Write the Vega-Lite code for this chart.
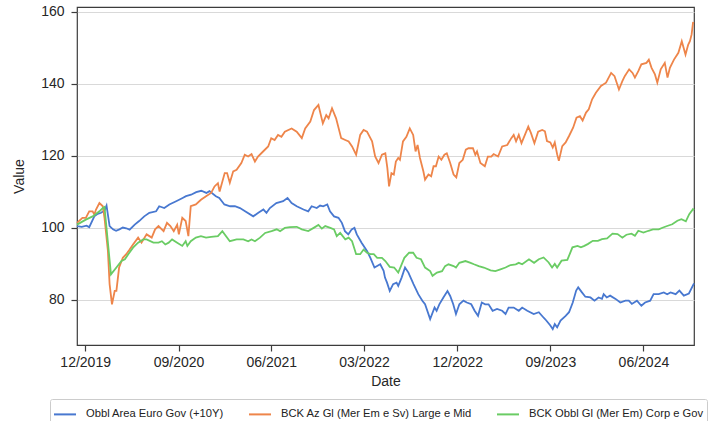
{
  "$schema": "https://vega.github.io/schema/vega-lite/v6.json",
  "width": 617,
  "height": 338,
  "autosize": {"type": "none"},
  "padding": {"left": 77, "top": 7, "right": 26, "bottom": 76},
  "datasets": {
    "names": [
      {"s": "a", "name": "Obbl Area Euro Gov (+10Y)"},
      {"s": "b", "name": "BCK Az Gl (Mer Em e Sv) Large e Mid"},
      {"s": "c", "name": "BCK Obbl Gl (Mer Em) Corp e Gov"}
    ]
  },
  "data": {
    "format": {"parse": {"d": "date"}},
    "values": [
      {"s":"a","d":"2019-11-07","v":100.5},{"s":"a","d":"2019-11-21","v":100.3},{"s":"a","d":"2019-12-05","v":100.6},{"s":"a","d":"2019-12-13","v":100.2},
      {"s":"a","d":"2019-12-28","v":103.2},{"s":"a","d":"2020-01-07","v":103.9},{"s":"a","d":"2020-01-17","v":104.2},{"s":"a","d":"2020-01-27","v":104.8},
      {"s":"a","d":"2020-02-02","v":106.2},{"s":"a","d":"2020-02-11","v":100.5},{"s":"a","d":"2020-02-21","v":99.6},{"s":"a","d":"2020-03-01","v":99.2},
      {"s":"a","d":"2020-03-11","v":99.6},{"s":"a","d":"2020-03-21","v":100.1},{"s":"a","d":"2020-03-31","v":99.9},{"s":"a","d":"2020-04-10","v":99.5},
      {"s":"a","d":"2020-04-25","v":100.9},{"s":"a","d":"2020-05-08","v":101.9},{"s":"a","d":"2020-05-23","v":103.2},{"s":"a","d":"2020-06-07","v":104.2},
      {"s":"a","d":"2020-06-27","v":104.6},{"s":"a","d":"2020-07-06","v":106.0},{"s":"a","d":"2020-07-21","v":105.5},{"s":"a","d":"2020-08-05","v":106.5},
      {"s":"a","d":"2020-08-25","v":107.4},{"s":"a","d":"2020-09-13","v":108.3},{"s":"a","d":"2020-09-23","v":108.8},{"s":"a","d":"2020-10-08","v":109.2},
      {"s":"a","d":"2020-10-23","v":109.9},{"s":"a","d":"2020-11-07","v":110.3},{"s":"a","d":"2020-11-22","v":109.7},{"s":"a","d":"2020-12-01","v":110.2},
      {"s":"a","d":"2020-12-20","v":108.8},{"s":"a","d":"2020-12-30","v":108.3},{"s":"a","d":"2021-01-14","v":106.5},{"s":"a","d":"2021-01-31","v":106.0},
      {"s":"a","d":"2021-02-14","v":106.0},{"s":"a","d":"2021-03-01","v":105.5},{"s":"a","d":"2021-03-16","v":104.6},{"s":"a","d":"2021-04-09","v":103.2},
      {"s":"a","d":"2021-04-24","v":104.2},{"s":"a","d":"2021-05-09","v":105.1},{"s":"a","d":"2021-05-18","v":104.2},{"s":"a","d":"2021-05-28","v":105.5},
      {"s":"a","d":"2021-06-16","v":106.9},{"s":"a","d":"2021-07-06","v":107.4},{"s":"a","d":"2021-07-19","v":108.3},{"s":"a","d":"2021-07-31","v":106.9},
      {"s":"a","d":"2021-08-15","v":106.0},{"s":"a","d":"2021-09-04","v":105.1},{"s":"a","d":"2021-09-18","v":104.6},{"s":"a","d":"2021-09-28","v":106.0},
      {"s":"a","d":"2021-10-13","v":105.5},{"s":"a","d":"2021-10-23","v":106.2},{"s":"a","d":"2021-11-01","v":106.0},{"s":"a","d":"2021-11-13","v":106.5},
      {"s":"a","d":"2021-11-21","v":104.6},{"s":"a","d":"2021-12-03","v":103.2},{"s":"a","d":"2021-12-16","v":102.8},{"s":"a","d":"2021-12-26","v":101.4},
      {"s":"a","d":"2022-01-04","v":99.1},{"s":"a","d":"2022-01-14","v":98.2},{"s":"a","d":"2022-01-24","v":99.6},{"s":"a","d":"2022-02-01","v":100.0},
      {"s":"a","d":"2022-02-08","v":98.2},{"s":"a","d":"2022-02-22","v":95.9},{"s":"a","d":"2022-03-10","v":93.6},{"s":"a","d":"2022-03-20","v":91.7},
      {"s":"a","d":"2022-04-01","v":89.0},{"s":"a","d":"2022-04-18","v":89.9},{"s":"a","d":"2022-04-28","v":88.1},{"s":"a","d":"2022-05-02","v":86.2},
      {"s":"a","d":"2022-05-08","v":84.8},{"s":"a","d":"2022-05-16","v":82.5},{"s":"a","d":"2022-05-26","v":84.4},{"s":"a","d":"2022-06-05","v":84.8},
      {"s":"a","d":"2022-06-10","v":83.9},{"s":"a","d":"2022-06-20","v":86.2},{"s":"a","d":"2022-06-30","v":89.0},{"s":"a","d":"2022-07-10","v":87.6},
      {"s":"a","d":"2022-07-25","v":84.4},{"s":"a","d":"2022-08-08","v":81.6},{"s":"a","d":"2022-08-20","v":79.8},{"s":"a","d":"2022-08-28","v":78.8},
      {"s":"a","d":"2022-09-12","v":74.7},{"s":"a","d":"2022-09-25","v":77.9},{"s":"a","d":"2022-10-01","v":77.0},{"s":"a","d":"2022-10-09","v":78.8},
      {"s":"a","d":"2022-10-21","v":80.7},{"s":"a","d":"2022-11-02","v":82.5},{"s":"a","d":"2022-11-10","v":81.1},{"s":"a","d":"2022-11-19","v":78.8},
      {"s":"a","d":"2022-11-27","v":76.1},{"s":"a","d":"2022-12-07","v":78.8},{"s":"a","d":"2022-12-19","v":79.8},{"s":"a","d":"2022-12-29","v":79.3},
      {"s":"a","d":"2023-01-11","v":78.8},{"s":"a","d":"2023-01-21","v":77.0},{"s":"a","d":"2023-01-31","v":75.6},{"s":"a","d":"2023-02-11","v":79.3},
      {"s":"a","d":"2023-02-21","v":78.8},{"s":"a","d":"2023-03-03","v":78.8},{"s":"a","d":"2023-03-15","v":77.0},{"s":"a","d":"2023-03-28","v":77.5},
      {"s":"a","d":"2023-04-12","v":77.0},{"s":"a","d":"2023-04-22","v":76.1},{"s":"a","d":"2023-05-01","v":77.9},{"s":"a","d":"2023-05-16","v":77.9},
      {"s":"a","d":"2023-05-31","v":77.0},{"s":"a","d":"2023-06-10","v":77.9},{"s":"a","d":"2023-06-25","v":77.0},{"s":"a","d":"2023-07-14","v":76.1},
      {"s":"a","d":"2023-07-29","v":76.6},{"s":"a","d":"2023-08-13","v":75.0},{"s":"a","d":"2023-08-20","v":74.3},{"s":"a","d":"2023-09-01","v":72.9},
      {"s":"a","d":"2023-09-08","v":71.9},{"s":"a","d":"2023-09-14","v":73.3},{"s":"a","d":"2023-09-21","v":72.4},{"s":"a","d":"2023-10-01","v":74.3},
      {"s":"a","d":"2023-10-16","v":75.6},{"s":"a","d":"2023-10-26","v":76.6},{"s":"a","d":"2023-11-06","v":79.3},{"s":"a","d":"2023-11-16","v":82.6},
      {"s":"a","d":"2023-11-22","v":83.5},{"s":"a","d":"2023-12-03","v":82.1},{"s":"a","d":"2023-12-13","v":80.9},{"s":"a","d":"2023-12-28","v":80.7},
      {"s":"a","d":"2024-01-09","v":79.8},{"s":"a","d":"2024-01-21","v":80.7},{"s":"a","d":"2024-01-31","v":80.3},{"s":"a","d":"2024-02-05","v":81.6},
      {"s":"a","d":"2024-02-14","v":80.7},{"s":"a","d":"2024-02-24","v":81.2},{"s":"a","d":"2024-03-11","v":80.3},{"s":"a","d":"2024-03-25","v":79.3},
      {"s":"a","d":"2024-04-09","v":79.8},{"s":"a","d":"2024-04-19","v":79.8},{"s":"a","d":"2024-04-28","v":78.9},{"s":"a","d":"2024-05-13","v":79.8},
      {"s":"a","d":"2024-05-26","v":78.4},{"s":"a","d":"2024-06-06","v":79.3},{"s":"a","d":"2024-06-21","v":79.8},{"s":"a","d":"2024-07-01","v":81.6},
      {"s":"a","d":"2024-07-16","v":81.6},{"s":"a","d":"2024-07-31","v":82.1},{"s":"a","d":"2024-08-10","v":81.6},{"s":"a","d":"2024-08-20","v":82.1},
      {"s":"a","d":"2024-09-04","v":81.6},{"s":"a","d":"2024-09-15","v":82.6},{"s":"a","d":"2024-09-28","v":81.2},{"s":"a","d":"2024-10-13","v":81.8},
      {"s":"a","d":"2024-10-28","v":84.6},

      {"s":"b","d":"2019-11-07","v":101.4},{"s":"b","d":"2019-11-23","v":102.8},{"s":"b","d":"2019-12-03","v":102.8},{"s":"b","d":"2019-12-13","v":104.6},
      {"s":"b","d":"2019-12-23","v":104.6},{"s":"b","d":"2019-12-28","v":103.7},{"s":"b","d":"2020-01-02","v":105.1},{"s":"b","d":"2020-01-12","v":106.9},
      {"s":"b","d":"2020-01-22","v":106.0},{"s":"b","d":"2020-01-27","v":102.8},{"s":"b","d":"2020-02-06","v":93.6},{"s":"b","d":"2020-02-11","v":84.4},
      {"s":"b","d":"2020-02-18","v":78.8},{"s":"b","d":"2020-02-26","v":82.5},{"s":"b","d":"2020-03-02","v":82.5},{"s":"b","d":"2020-03-10","v":89.0},
      {"s":"b","d":"2020-03-21","v":91.7},{"s":"b","d":"2020-03-31","v":92.7},{"s":"b","d":"2020-04-10","v":94.0},{"s":"b","d":"2020-04-20","v":95.4},
      {"s":"b","d":"2020-05-05","v":97.3},{"s":"b","d":"2020-05-15","v":95.9},{"s":"b","d":"2020-05-30","v":98.2},{"s":"b","d":"2020-06-14","v":97.3},
      {"s":"b","d":"2020-06-24","v":99.6},{"s":"b","d":"2020-07-04","v":100.5},{"s":"b","d":"2020-07-19","v":99.1},{"s":"b","d":"2020-07-29","v":101.4},
      {"s":"b","d":"2020-08-08","v":100.5},{"s":"b","d":"2020-08-18","v":99.1},{"s":"b","d":"2020-08-28","v":100.9},{"s":"b","d":"2020-09-02","v":98.2},
      {"s":"b","d":"2020-09-12","v":102.8},{"s":"b","d":"2020-09-22","v":101.9},{"s":"b","d":"2020-09-30","v":97.7},{"s":"b","d":"2020-10-07","v":106.0},
      {"s":"b","d":"2020-10-22","v":106.5},{"s":"b","d":"2020-11-06","v":107.8},{"s":"b","d":"2020-11-21","v":108.8},{"s":"b","d":"2020-12-06","v":109.7},
      {"s":"b","d":"2020-12-16","v":111.5},{"s":"b","d":"2020-12-26","v":112.4},{"s":"b","d":"2020-12-31","v":110.1},{"s":"b","d":"2021-01-15","v":115.2},
      {"s":"b","d":"2021-01-22","v":115.2},{"s":"b","d":"2021-01-30","v":112.5},{"s":"b","d":"2021-02-09","v":115.7},{"s":"b","d":"2021-02-19","v":116.1},
      {"s":"b","d":"2021-03-05","v":118.0},{"s":"b","d":"2021-03-15","v":120.3},{"s":"b","d":"2021-03-25","v":119.8},{"s":"b","d":"2021-04-04","v":120.5},
      {"s":"b","d":"2021-04-14","v":118.4},{"s":"b","d":"2021-04-23","v":119.8},{"s":"b","d":"2021-05-08","v":121.2},{"s":"b","d":"2021-05-23","v":122.6},
      {"s":"b","d":"2021-06-01","v":124.9},{"s":"b","d":"2021-06-11","v":124.4},{"s":"b","d":"2021-06-21","v":125.8},{"s":"b","d":"2021-07-01","v":125.3},
      {"s":"b","d":"2021-07-11","v":126.7},{"s":"b","d":"2021-07-31","v":127.6},{"s":"b","d":"2021-08-15","v":126.7},{"s":"b","d":"2021-08-30","v":124.9},
      {"s":"b","d":"2021-09-09","v":127.6},{"s":"b","d":"2021-09-24","v":129.5},{"s":"b","d":"2021-10-05","v":132.7},{"s":"b","d":"2021-10-18","v":134.1},
      {"s":"b","d":"2021-10-31","v":129.0},{"s":"b","d":"2021-11-10","v":131.3},{"s":"b","d":"2021-11-17","v":130.4},{"s":"b","d":"2021-11-27","v":133.2},
      {"s":"b","d":"2021-12-09","v":130.4},{"s":"b","d":"2021-12-24","v":124.9},{"s":"b","d":"2022-01-05","v":124.4},{"s":"b","d":"2022-01-15","v":124.0},
      {"s":"b","d":"2022-01-25","v":122.6},{"s":"b","d":"2022-02-06","v":120.3},{"s":"b","d":"2022-02-18","v":125.8},{"s":"b","d":"2022-02-28","v":127.2},
      {"s":"b","d":"2022-03-10","v":126.7},{"s":"b","d":"2022-03-25","v":124.0},{"s":"b","d":"2022-04-03","v":119.8},{"s":"b","d":"2022-04-13","v":118.0},
      {"s":"b","d":"2022-04-23","v":120.3},{"s":"b","d":"2022-05-03","v":120.7},{"s":"b","d":"2022-05-09","v":116.6},{"s":"b","d":"2022-05-14","v":111.5},
      {"s":"b","d":"2022-05-21","v":115.2},{"s":"b","d":"2022-05-28","v":114.8},{"s":"b","d":"2022-06-03","v":118.4},{"s":"b","d":"2022-06-10","v":119.4},
      {"s":"b","d":"2022-06-15","v":118.9},{"s":"b","d":"2022-06-24","v":124.0},{"s":"b","d":"2022-07-04","v":125.3},{"s":"b","d":"2022-07-14","v":127.6},
      {"s":"b","d":"2022-07-24","v":125.8},{"s":"b","d":"2022-07-31","v":121.2},{"s":"b","d":"2022-08-06","v":123.0},{"s":"b","d":"2022-08-13","v":119.4},
      {"s":"b","d":"2022-08-23","v":115.7},{"s":"b","d":"2022-08-28","v":113.4},{"s":"b","d":"2022-09-07","v":114.8},{"s":"b","d":"2022-09-15","v":114.3},
      {"s":"b","d":"2022-09-22","v":117.1},{"s":"b","d":"2022-09-29","v":117.1},{"s":"b","d":"2022-10-07","v":119.8},{"s":"b","d":"2022-10-15","v":118.9},
      {"s":"b","d":"2022-10-24","v":120.3},{"s":"b","d":"2022-10-31","v":120.7},{"s":"b","d":"2022-11-10","v":118.0},{"s":"b","d":"2022-11-20","v":114.8},
      {"s":"b","d":"2022-11-28","v":114.0},{"s":"b","d":"2022-12-07","v":118.0},{"s":"b","d":"2022-12-17","v":118.9},{"s":"b","d":"2022-12-26","v":121.7},
      {"s":"b","d":"2023-01-03","v":122.1},{"s":"b","d":"2023-01-16","v":122.1},{"s":"b","d":"2023-01-23","v":120.3},{"s":"b","d":"2023-01-28","v":121.2},
      {"s":"b","d":"2023-02-07","v":118.0},{"s":"b","d":"2023-02-20","v":117.1},{"s":"b","d":"2023-03-01","v":119.8},{"s":"b","d":"2023-03-11","v":119.8},
      {"s":"b","d":"2023-03-18","v":120.5},{"s":"b","d":"2023-03-31","v":119.8},{"s":"b","d":"2023-04-12","v":122.6},{"s":"b","d":"2023-04-27","v":123.0},
      {"s":"b","d":"2023-05-09","v":124.9},{"s":"b","d":"2023-05-16","v":125.8},{"s":"b","d":"2023-05-23","v":124.0},{"s":"b","d":"2023-05-31","v":125.8},
      {"s":"b","d":"2023-06-08","v":123.5},{"s":"b","d":"2023-06-18","v":125.8},{"s":"b","d":"2023-06-28","v":128.1},{"s":"b","d":"2023-07-06","v":126.3},
      {"s":"b","d":"2023-07-16","v":123.5},{"s":"b","d":"2023-07-27","v":126.7},{"s":"b","d":"2023-08-08","v":127.2},{"s":"b","d":"2023-08-16","v":126.8},
      {"s":"b","d":"2023-08-22","v":124.1},{"s":"b","d":"2023-09-01","v":123.7},{"s":"b","d":"2023-09-08","v":122.3},{"s":"b","d":"2023-09-14","v":123.7},
      {"s":"b","d":"2023-09-21","v":120.4},{"s":"b","d":"2023-09-26","v":118.6},{"s":"b","d":"2023-10-06","v":122.7},{"s":"b","d":"2023-10-16","v":123.7},
      {"s":"b","d":"2023-10-26","v":125.5},{"s":"b","d":"2023-11-07","v":127.8},{"s":"b","d":"2023-11-17","v":130.6},{"s":"b","d":"2023-11-27","v":131.0},
      {"s":"b","d":"2023-12-05","v":129.8},{"s":"b","d":"2023-12-15","v":132.0},{"s":"b","d":"2023-12-23","v":132.9},{"s":"b","d":"2024-01-02","v":135.7},
      {"s":"b","d":"2024-01-13","v":137.5},{"s":"b","d":"2024-01-28","v":139.4},{"s":"b","d":"2024-02-12","v":140.3},{"s":"b","d":"2024-02-27","v":143.0},
      {"s":"b","d":"2024-03-08","v":142.1},{"s":"b","d":"2024-03-21","v":138.4},{"s":"b","d":"2024-03-31","v":140.7},{"s":"b","d":"2024-04-07","v":142.1},
      {"s":"b","d":"2024-04-20","v":144.0},{"s":"b","d":"2024-04-30","v":143.0},{"s":"b","d":"2024-05-07","v":141.7},{"s":"b","d":"2024-05-17","v":143.5},
      {"s":"b","d":"2024-05-26","v":145.4},{"s":"b","d":"2024-06-10","v":145.8},{"s":"b","d":"2024-06-17","v":146.7},{"s":"b","d":"2024-06-25","v":144.4},
      {"s":"b","d":"2024-07-05","v":142.6},{"s":"b","d":"2024-07-12","v":140.3},{"s":"b","d":"2024-07-22","v":144.0},{"s":"b","d":"2024-08-03","v":145.8},
      {"s":"b","d":"2024-08-11","v":141.7},{"s":"b","d":"2024-08-18","v":144.4},{"s":"b","d":"2024-08-30","v":146.7},{"s":"b","d":"2024-09-12","v":148.6},
      {"s":"b","d":"2024-09-22","v":151.8},{"s":"b","d":"2024-10-03","v":148.1},{"s":"b","d":"2024-10-11","v":150.9},{"s":"b","d":"2024-10-16","v":151.8},
      {"s":"b","d":"2024-10-21","v":153.7},{"s":"b","d":"2024-10-25","v":156.9},{"s":"b","d":"2024-10-28","v":156.8},

      {"s":"c","d":"2019-11-07","v":100.9},{"s":"c","d":"2019-12-03","v":102.3},{"s":"c","d":"2019-12-23","v":103.2},{"s":"c","d":"2020-01-12","v":104.6},
      {"s":"c","d":"2020-01-22","v":105.5},{"s":"c","d":"2020-01-27","v":105.8},{"s":"c","d":"2020-02-15","v":87.1},{"s":"c","d":"2020-03-02","v":89.0},
      {"s":"c","d":"2020-03-17","v":90.8},{"s":"c","d":"2020-03-27","v":91.3},{"s":"c","d":"2020-04-06","v":92.7},{"s":"c","d":"2020-04-20","v":94.5},
      {"s":"c","d":"2020-05-05","v":95.9},{"s":"c","d":"2020-05-20","v":96.8},{"s":"c","d":"2020-05-30","v":96.8},{"s":"c","d":"2020-06-19","v":95.9},
      {"s":"c","d":"2020-07-04","v":95.9},{"s":"c","d":"2020-07-14","v":96.3},{"s":"c","d":"2020-07-24","v":95.4},{"s":"c","d":"2020-08-03","v":95.9},
      {"s":"c","d":"2020-08-13","v":96.8},{"s":"c","d":"2020-08-28","v":95.9},{"s":"c","d":"2020-09-12","v":95.0},{"s":"c","d":"2020-09-22","v":96.3},
      {"s":"c","d":"2020-09-27","v":95.0},{"s":"c","d":"2020-10-07","v":96.3},{"s":"c","d":"2020-10-22","v":97.3},{"s":"c","d":"2020-11-06","v":97.7},
      {"s":"c","d":"2020-11-21","v":97.3},{"s":"c","d":"2020-12-06","v":97.5},{"s":"c","d":"2020-12-26","v":97.7},{"s":"c","d":"2021-01-08","v":99.1},
      {"s":"c","d":"2021-01-30","v":96.3},{"s":"c","d":"2021-02-19","v":96.8},{"s":"c","d":"2021-03-11","v":96.8},{"s":"c","d":"2021-03-25","v":96.3},
      {"s":"c","d":"2021-04-04","v":96.8},{"s":"c","d":"2021-04-14","v":96.3},{"s":"c","d":"2021-04-29","v":97.3},{"s":"c","d":"2021-05-14","v":98.6},
      {"s":"c","d":"2021-06-02","v":99.1},{"s":"c","d":"2021-06-17","v":99.6},{"s":"c","d":"2021-06-27","v":99.1},{"s":"c","d":"2021-07-11","v":100.0},
      {"s":"c","d":"2021-07-26","v":100.2},{"s":"c","d":"2021-08-15","v":100.3},{"s":"c","d":"2021-08-30","v":99.6},{"s":"c","d":"2021-09-18","v":99.1},
      {"s":"c","d":"2021-10-04","v":100.0},{"s":"c","d":"2021-10-18","v":100.8},{"s":"c","d":"2021-10-28","v":99.8},{"s":"c","d":"2021-11-07","v":100.5},
      {"s":"c","d":"2021-11-22","v":100.0},{"s":"c","d":"2021-12-03","v":99.6},{"s":"c","d":"2021-12-11","v":97.7},{"s":"c","d":"2021-12-21","v":98.6},
      {"s":"c","d":"2022-01-05","v":96.8},{"s":"c","d":"2022-01-15","v":97.3},{"s":"c","d":"2022-01-25","v":96.3},{"s":"c","d":"2022-02-06","v":92.7},
      {"s":"c","d":"2022-02-18","v":92.7},{"s":"c","d":"2022-02-28","v":94.0},{"s":"c","d":"2022-03-10","v":93.1},{"s":"c","d":"2022-03-20","v":92.7},
      {"s":"c","d":"2022-03-30","v":92.7},{"s":"c","d":"2022-04-09","v":91.7},{"s":"c","d":"2022-04-23","v":91.7},{"s":"c","d":"2022-05-03","v":90.8},
      {"s":"c","d":"2022-05-16","v":89.2},{"s":"c","d":"2022-05-29","v":89.0},{"s":"c","d":"2022-06-10","v":87.6},{"s":"c","d":"2022-06-18","v":89.4},
      {"s":"c","d":"2022-06-28","v":91.7},{"s":"c","d":"2022-07-12","v":93.1},{"s":"c","d":"2022-07-24","v":93.1},{"s":"c","d":"2022-08-03","v":91.7},
      {"s":"c","d":"2022-08-16","v":91.3},{"s":"c","d":"2022-08-28","v":89.0},{"s":"c","d":"2022-09-12","v":88.0},{"s":"c","d":"2022-09-19","v":86.7},
      {"s":"c","d":"2022-10-02","v":87.6},{"s":"c","d":"2022-10-17","v":88.0},{"s":"c","d":"2022-10-26","v":89.4},{"s":"c","d":"2022-11-05","v":89.9},
      {"s":"c","d":"2022-11-20","v":89.4},{"s":"c","d":"2022-11-27","v":89.0},{"s":"c","d":"2022-12-07","v":90.3},{"s":"c","d":"2022-12-25","v":90.8},
      {"s":"c","d":"2023-01-09","v":90.3},{"s":"c","d":"2023-01-19","v":89.9},{"s":"c","d":"2023-02-02","v":89.4},{"s":"c","d":"2023-02-17","v":89.0},
      {"s":"c","d":"2023-03-09","v":88.2},{"s":"c","d":"2023-03-23","v":88.0},{"s":"c","d":"2023-04-07","v":88.5},{"s":"c","d":"2023-04-22","v":89.0},
      {"s":"c","d":"2023-05-07","v":89.7},{"s":"c","d":"2023-05-22","v":89.9},{"s":"c","d":"2023-05-31","v":90.3},{"s":"c","d":"2023-06-10","v":89.9},
      {"s":"c","d":"2023-06-30","v":91.3},{"s":"c","d":"2023-07-15","v":90.3},{"s":"c","d":"2023-07-29","v":91.3},{"s":"c","d":"2023-08-12","v":91.8},
      {"s":"c","d":"2023-08-27","v":90.4},{"s":"c","d":"2023-09-06","v":89.0},{"s":"c","d":"2023-09-14","v":90.0},{"s":"c","d":"2023-09-21","v":89.0},
      {"s":"c","d":"2023-10-04","v":90.9},{"s":"c","d":"2023-10-21","v":91.1},{"s":"c","d":"2023-11-05","v":94.6},{"s":"c","d":"2023-11-20","v":95.0},
      {"s":"c","d":"2023-11-30","v":94.6},{"s":"c","d":"2023-12-10","v":95.0},{"s":"c","d":"2023-12-20","v":95.5},{"s":"c","d":"2024-01-04","v":96.4},
      {"s":"c","d":"2024-01-19","v":96.4},{"s":"c","d":"2024-01-31","v":96.9},{"s":"c","d":"2024-02-15","v":97.1},{"s":"c","d":"2024-03-02","v":98.4},
      {"s":"c","d":"2024-03-17","v":98.3},{"s":"c","d":"2024-03-31","v":97.3},{"s":"c","d":"2024-04-12","v":98.1},{"s":"c","d":"2024-04-27","v":98.4},
      {"s":"c","d":"2024-05-07","v":97.8},{"s":"c","d":"2024-05-17","v":99.2},{"s":"c","d":"2024-06-01","v":98.7},{"s":"c","d":"2024-06-16","v":99.2},
      {"s":"c","d":"2024-06-29","v":99.6},{"s":"c","d":"2024-07-16","v":99.6},{"s":"c","d":"2024-07-29","v":100.1},{"s":"c","d":"2024-08-12","v":100.6},
      {"s":"c","d":"2024-08-25","v":101.0},{"s":"c","d":"2024-09-09","v":102.0},{"s":"c","d":"2024-09-21","v":102.4},{"s":"c","d":"2024-10-04","v":101.8},
      {"s":"c","d":"2024-10-14","v":103.8},{"s":"c","d":"2024-10-25","v":105.2},{"s":"c","d":"2024-10-28","v":104.9}
    ]
  },
  "transform": [
    {"lookup": "s", "from": {"data": {"name": "names"}, "key": "s", "fields": ["name"]}}
  ],
  "mark": {"type": "line", "strokeWidth": 1.8},
  "encoding": {
    "x": {
      "field": "d",
      "type": "temporal",
      "scale": {
        "type": "utc",
        "domain": [
          {"year": 2019, "month": 11, "date": 7, "utc": true},
          {"year": 2024, "month": 10, "date": 28, "utc": true}
        ]
      },
      "axis": {
        "title": "Date",
        "format": "%m/%Y",
        "values": [
          {"year": 2019, "month": 12, "date": 1, "utc": true},
          {"year": 2020, "month": 9, "date": 1, "utc": true},
          {"year": 2021, "month": 6, "date": 1, "utc": true},
          {"year": 2022, "month": 3, "date": 1, "utc": true},
          {"year": 2022, "month": 12, "date": 1, "utc": true},
          {"year": 2023, "month": 9, "date": 1, "utc": true},
          {"year": 2024, "month": 6, "date": 1, "utc": true}
        ],
        "grid": false,
        "domain": false,
        "labelAngle": 0,
        "labelFlush": false,
        "labelOverlap": false,
        "tickSize": 6,
        "labelPadding": 4,
        "titlePadding": 5
      }
    },
    "y": {
      "field": "v",
      "type": "quantitative",
      "scale": {"domain": [67.5, 161.3], "nice": false, "zero": false},
      "axis": {
        "title": "Value",
        "values": [80, 100, 120, 140, 160],
        "grid": true,
        "domain": false,
        "tickSize": 6,
        "labelPadding": 7,
        "titlePadding": 14
      }
    },
    "color": {
      "field": "name",
      "type": "nominal",
      "scale": {
        "domain": ["Obbl Area Euro Gov (+10Y)", "BCK Az Gl (Mer Em e Sv) Large e Mid", "BCK Obbl Gl (Mer Em) Corp e Gov"],
        "range": ["#4878d0", "#ee854a", "#6acc64"]
      },
      "legend": {
        "title": null,
        "orient": "none",
        "legendX": -27,
        "legendY": 392,
        "direction": "horizontal",
        "symbolType": "stroke",
        "symbolSize": 484,
        "symbolStrokeWidth": 2,
        "labelFontSize": 11.2,
        "labelColor": "#222222",
        "labelOffset": 9,
        "labelLimit": 300,
        "columnPadding": 21,
        "padding": 3,
        "strokeColor": "#cccccc",
        "fillColor": "#ffffff",
        "cornerRadius": 2
      }
    }
  },
  "config": {
    "font": "Liberation Sans",
    "view": {"stroke": "#3c3c3c", "strokeWidth": 1.2},
    "axis": {
      "labelFontSize": 14,
      "labelColor": "#262626",
      "titleFontSize": 14,
      "titleFontWeight": "normal",
      "titleColor": "#262626",
      "tickColor": "#3c3c3c",
      "tickWidth": 1.2,
      "gridColor": "#d9d9d9",
      "gridWidth": 1
    }
  }
}
